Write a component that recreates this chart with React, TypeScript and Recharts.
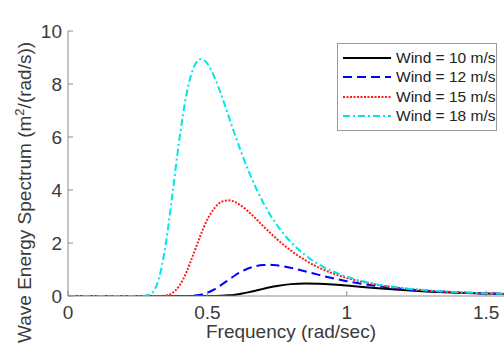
import React from 'react';
import { LineChart, Line, XAxis, YAxis, Legend, Label } from 'recharts';

const frequencies = [0, 0.1, 0.2, 0.25, 0.275, 0.3, 0.325, 0.35, 0.375, 0.4, 0.425, 0.45, 0.475, 0.5, 0.525, 0.55, 0.575, 0.6, 0.625, 0.65, 0.675, 0.7, 0.725, 0.75, 0.8, 0.85, 0.9, 0.95, 1.0, 1.1, 1.2, 1.3, 1.4, 1.5, 1.6];

const wind10 = [0, 0, 0, 0, 0, 0, 0, 0, 0, 0, 0, 0, 0, 0, 0.002, 0.009, 0.024, 0.051, 0.093, 0.146, 0.206, 0.269, 0.328, 0.378, 0.448, 0.474, 0.465, 0.435, 0.393, 0.303, 0.225, 0.165, 0.121, 0.09, 0.067];
const wind12 = [0, 0, 0, 0, 0, 0, 0, 0, 0, 0, 0.002, 0.0135, 0.049, 0.126, 0.253, 0.419, 0.603, 0.784, 0.937, 1.055, 1.133, 1.171, 1.177, 1.156, 1.061, 0.933, 0.797, 0.671, 0.56, 0.386, 0.267, 0.187, 0.133, 0.096, 0.071];
const wind15 = [0, 0, 0, 0, 0, 0, 0.001, 0.019, 0.115, 0.393, 0.904, 1.58, 2.28, 2.89, 3.31, 3.55, 3.61, 3.54, 3.38, 3.16, 2.905, 2.64, 2.39, 2.14, 1.71, 1.36, 1.07, 0.853, 0.681, 0.441, 0.293, 0.2, 0.14, 0.1, 0.072];
const wind18 = [0, 0, 0, 0, 0.006, 0.1, 0.62, 1.91, 3.87, 5.95, 7.61, 8.6, 8.94, 8.77, 8.27, 7.59, 6.82, 6.05, 5.33, 4.66, 4.06, 3.53, 3.07, 2.67, 2.03, 1.55, 1.19, 0.93, 0.73, 0.46, 0.3, 0.205, 0.142, 0.101, 0.074];

const xTicks = [0, 0.5, 1, 1.5];
const yTicks = [0, 2, 4, 6, 8, 10];

const seriesNames = ['Wind = 10 m/s', 'Wind = 12 m/s', 'Wind = 15 m/s', 'Wind = 18 m/s'];
const seriesKeys = ['w10', 'w12', 'w15', 'w18'];
const seriesColors = ['#000000', '#0000ff', '#ff1a1a', '#00e5e5'];
const seriesDash = ['', '9 5', '2 1.5', '7 3 2 3'];

const data = frequencies.map((f, i) => ({
  f,
  w10: wind10[i],
  w12: wind12[i],
  w15: wind15[i],
  w18: wind18[i],
}));

const AXIS = '#8a8a8a';
const TEXT = '#3a3a3a';
const FONT = '"Liberation Sans", Arial, sans-serif';

const BottomTick = (props: any) => {
  const { x, y, payload } = props;
  return (
    <g>
      <line x1={x} x2={x} y1={y} y2={y - 5} stroke={AXIS} strokeWidth={1} />
      <text x={x} y={y + 23} textAnchor="middle" fill={TEXT} fontSize={19} fontFamily={FONT}>
        {String(payload.value)}
      </text>
    </g>
  );
};

const TopTick = (props: any) => {
  const { x, y } = props;
  return <line x1={x} x2={x} y1={y} y2={y + 5} stroke={AXIS} strokeWidth={1} />;
};

const LeftTick = (props: any) => {
  const { x, y, payload } = props;
  return (
    <g>
      <line x1={x} x2={x + 5} y1={y} y2={y} stroke={AXIS} strokeWidth={1} />
      <text x={x - 6} y={y + 7} textAnchor="end" fill={TEXT} fontSize={19} fontFamily={FONT}>
        {String(payload.value)}
      </text>
    </g>
  );
};

const renderLegend = () => (
  <div
    style={{
      width: 160,
      height: 88,
      border: '1px solid #9a9a9a',
      background: '#fff',
      boxSizing: 'border-box',
      paddingTop: 4,
      fontFamily: FONT,
      fontSize: 15.5,
      color: '#222',
    }}
  >
    {seriesNames.map((name, i) => (
      <div key={name} style={{ display: 'flex', alignItems: 'center', height: 19.5 }}>
        <svg width={58} height={10} style={{ flex: 'none' }}>
          <line
            x1={5}
            x2={53}
            y1={5}
            y2={5}
            stroke={seriesColors[i]}
            strokeWidth={2}
            strokeDasharray={seriesDash[i] || undefined}
          />
        </svg>
        <span style={{ whiteSpace: 'nowrap' }}>{name}</span>
      </div>
    ))}
  </div>
);

export default function App() {
  return (
    <div
      style={{
        position: 'absolute',
        left: 0,
        top: 0,
        width: 504,
        height: 352,
        overflow: 'hidden',
        background: '#fff',
      }}
    >
      <LineChart width={514} height={352} data={data} margin={{ top: 31, right: 0, bottom: 0, left: 0 }}>
        <XAxis
          xAxisId="top"
          orientation="top"
          dataKey="f"
          type="number"
          domain={[0, 1.6]}
          ticks={xTicks}
          height={0}
          tickSize={0}
          tickMargin={0}
          tickLine={false}
          tick={<TopTick />}
          axisLine={{ stroke: AXIS, strokeWidth: 1 }}
          allowDataOverflow
        />
        <XAxis
          dataKey="f"
          type="number"
          domain={[0, 1.6]}
          ticks={xTicks}
          height={56}
          tickSize={0}
          tickMargin={0}
          tickLine={false}
          tick={<BottomTick />}
          axisLine={{ stroke: AXIS, strokeWidth: 1 }}
          allowDataOverflow
        >
          <Label
            content={() => (
              <text x={291} y={338} textAnchor="middle" fill={TEXT} fontSize={19} fontFamily={FONT}>
                Frequency (rad/sec)
              </text>
            )}
          />
        </XAxis>
        <YAxis
          type="number"
          domain={[0, 10]}
          ticks={yTicks}
          width={68}
          tickSize={0}
          tickMargin={0}
          tickLine={false}
          tick={<LeftTick />}
          axisLine={{ stroke: AXIS, strokeWidth: 1 }}
          allowDataOverflow
        >
          <Label
            content={() => (
              <text
                x={31}
                y={343}
                transform="rotate(-90, 31, 343)"
                textAnchor="start"
                fill={TEXT}
                fontSize={19}
                fontFamily={FONT}
              >
                <tspan>Wave Energy Spectrum (m</tspan>
                <tspan dy={-7} fontSize={13}>2</tspan>
                <tspan dy={7} fontSize={19}>/(rad/s))</tspan>
              </text>
            )}
          />
        </YAxis>
        {seriesKeys.map((k, i) => (
          <Line
            key={k}
            type="monotone"
            dataKey={k}
            name={seriesNames[i]}
            stroke={seriesColors[i]}
            strokeWidth={2}
            strokeDasharray={seriesDash[i] || undefined}
            dot={false}
            activeDot={false}
            isAnimationActive={false}
          />
        ))}
        <Legend
          layout="horizontal"
          verticalAlign="middle"
          align="center"
          content={renderLegend}
          wrapperStyle={{ left: 337, top: 43, width: 162, height: 90 }}
        />
      </LineChart>
    </div>
  );
}
